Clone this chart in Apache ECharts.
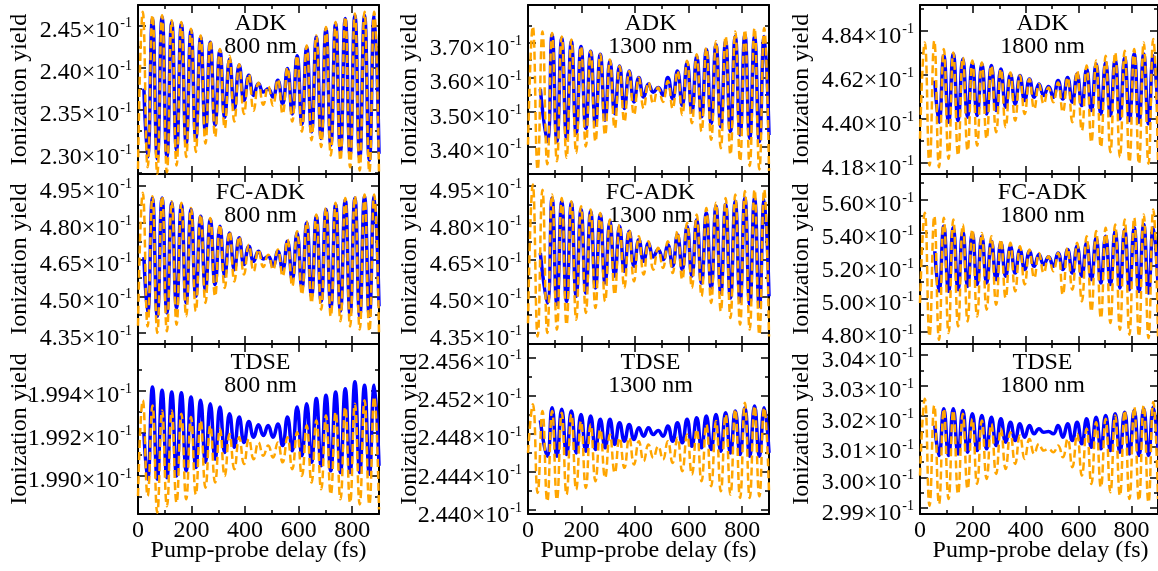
<!DOCTYPE html>
<html>
<head>
<meta charset="utf-8">
<script src="https://cdn.jsdelivr.net/npm/echarts@6/dist/echarts.min.js"></script>
<style>
html, body { margin: 0; padding: 0; background: #fff; }
#main { width: 1158px; height: 571px; }
</style>
</head>
<body>
<div id="main"></div>
<script>
// delays (fs) of the maxima / minima of the oscillation
var peakDelayFs = [18,54,90,126,162,198,234,270,306,342,378,414,450,486,522,558,594,630,666,702,738,774,810,846,882];
var troughDelayFs = [0,36,72,108,144,180,216,252,288,324,360,396,432,468,504,540,576,612,648,684,720,756,792,828,864,900];
var blueOnsetFs = [22, 46, 56];

var methods = ['ADK', 'FC-ADK', 'TDSE'];
var wavelengths = ['800 nm', '1300 nm', '1800 nm'];

// y values in units of 10^-1
// ---- 800 nm
var adk800BlueHi = [null,2.458,2.460,2.454,2.452,2.444,2.436,2.430,2.420,2.410,2.403,2.391,2.381,2.375,2.385,2.399,2.414,2.424,2.436,2.446,2.452,2.458,2.462,2.462,2.462];
var adk800BlueLo = [null,2.294,2.292,2.294,2.302,2.310,2.316,2.324,2.332,2.341,2.351,2.361,2.367,2.371,2.365,2.357,2.345,2.333,2.324,2.316,2.308,2.300,2.296,2.292,2.290,2.298];
var adk800OrangeHi = [2.466,2.462,2.462,2.456,2.454,2.446,2.438,2.432,2.422,2.414,2.404,2.392,2.382,2.378,2.386,2.400,2.414,2.426,2.438,2.448,2.454,2.460,2.464,2.466,2.466];
var adk800OrangeLo = [2.280,2.282,2.274,2.276,2.284,2.294,2.300,2.310,2.318,2.328,2.336,2.345,2.349,2.356,2.355,2.345,2.336,2.324,2.314,2.306,2.296,2.290,2.282,2.278,2.276,2.274];

var fc800BlueHi = [null,4.902,4.902,4.882,4.875,4.855,4.827,4.814,4.786,4.759,4.739,4.705,4.684,4.664,4.684,4.725,4.759,4.800,4.827,4.855,4.875,4.895,4.902,4.909,4.909];
var fc800BlueLo = [null,4.432,4.418,4.432,4.452,4.473,4.500,4.527,4.548,4.582,4.609,4.630,4.643,4.653,4.623,4.609,4.568,4.534,4.500,4.479,4.452,4.439,4.425,4.418,4.418,4.459];
var fc800OrangeHi = [4.923,4.909,4.909,4.889,4.882,4.861,4.834,4.820,4.793,4.766,4.745,4.711,4.691,4.670,4.691,4.732,4.766,4.807,4.834,4.861,4.882,4.902,4.909,4.916,4.916];
var fc800OrangeLo = [4.380,4.377,4.350,4.357,4.384,4.418,4.439,4.473,4.500,4.534,4.561,4.589,4.602,4.620,4.609,4.582,4.541,4.507,4.473,4.445,4.418,4.398,4.377,4.364,4.357,4.350];

var tdse800BlueHi = [null,1.99418,1.99402,1.99394,1.99391,1.99371,1.99355,1.99339,1.99323,1.99292,1.99276,1.99255,1.99240,1.99236,1.99244,1.99276,1.99323,1.99339,1.99363,1.99379,1.99394,1.99410,1.99442,1.99426,1.99426];
var tdse800BlueLo = [null,1.98984,1.98984,1.98991,1.98999,1.99023,1.99039,1.99063,1.99078,1.99110,1.99134,1.99157,1.99181,1.99189,1.99181,1.99142,1.99118,1.99094,1.99063,1.99047,1.99023,1.99015,1.99015,1.99015,1.99007,1.99047];
var tdse800OrangeHi = [1.99355,1.99331,1.99307,1.99307,1.99292,1.99276,1.99260,1.99236,1.99221,1.99197,1.99181,1.99173,1.99157,1.99142,1.99157,1.99181,1.99205,1.99236,1.99260,1.99284,1.99300,1.99323,1.99339,1.99355,1.99371];
var tdse800OrangeLo = [1.98905,1.98905,1.98826,1.98857,1.98873,1.98889,1.98912,1.98944,1.98968,1.98999,1.99031,1.99055,1.99078,1.99094,1.99086,1.99063,1.99031,1.98999,1.98968,1.98936,1.98912,1.98889,1.98873,1.98865,1.98865,1.98841];

// ---- 1300 nm
var adk1300BlueHi = [null,null,3.724,3.714,3.705,3.690,3.676,3.667,3.648,3.633,3.619,3.600,3.581,3.571,3.600,3.619,3.643,3.662,3.681,3.695,3.705,3.719,3.724,3.719,3.719];
var adk1300BlueLo = [null,null,3.414,3.414,3.424,3.438,3.452,3.462,3.476,3.495,3.510,3.529,3.543,3.557,3.548,3.538,3.519,3.500,3.486,3.467,3.457,3.443,3.433,3.424,3.414,3.433];
var adk1300OrangeHi = [3.748,3.733,3.729,3.719,3.710,3.690,3.676,3.667,3.652,3.633,3.619,3.600,3.586,3.571,3.590,3.619,3.648,3.667,3.686,3.705,3.719,3.733,3.738,3.743,3.743];
var adk1300OrangeLo = [3.405,3.333,3.348,3.357,3.367,3.381,3.400,3.414,3.433,3.452,3.471,3.491,3.510,3.524,3.529,3.510,3.491,3.467,3.443,3.419,3.395,3.376,3.357,3.343,3.333,3.329];

var fc1300BlueHi = [null,null,4.902,4.889,4.882,4.855,4.848,4.834,4.807,4.786,4.766,4.732,4.718,4.691,4.711,4.752,4.786,4.814,4.841,4.868,4.875,4.889,4.902,4.902,4.895];
var fc1300BlueLo = [null,null,4.473,4.466,4.479,4.500,4.514,4.534,4.554,4.582,4.602,4.623,4.643,4.661,4.650,4.623,4.609,4.582,4.554,4.534,4.514,4.493,4.479,4.466,4.459,4.500];
var fc1300OrangeHi = [4.957,4.936,4.916,4.902,4.889,4.868,4.855,4.841,4.814,4.793,4.773,4.745,4.725,4.698,4.725,4.766,4.800,4.834,4.861,4.882,4.902,4.916,4.930,4.936,4.936];
var fc1300OrangeLo = [4.390,4.336,4.350,4.364,4.384,4.404,4.432,4.452,4.479,4.507,4.534,4.561,4.589,4.609,4.616,4.595,4.568,4.534,4.500,4.473,4.439,4.411,4.384,4.364,4.343,4.336];

var tdse1300BlueHi = [null,null,2.45073,2.45056,2.45038,2.45003,2.44986,2.44951,2.44951,2.44916,2.44898,2.44863,2.44863,2.44835,2.44881,2.44916,2.44951,2.44968,2.44986,2.45003,2.45021,2.45038,2.45073,2.45091,2.45073];
var tdse1300BlueLo = [null,null,2.44565,2.44565,2.44583,2.44600,2.44618,2.44635,2.44653,2.44688,2.44723,2.44740,2.44775,2.44793,2.44775,2.44723,2.44705,2.44670,2.44653,2.44635,2.44618,2.44600,2.44583,2.44565,2.44565,2.44600];
var tdse1300OrangeHi = [2.45108,2.45038,2.45038,2.45021,2.45003,2.44933,2.44898,2.44846,2.44793,2.44758,2.44758,2.44723,2.44688,2.44670,2.44723,2.44758,2.44793,2.44846,2.44898,2.44933,2.45003,2.45056,2.45126,2.45091,2.45073];
var tdse1300OrangeLo = [2.44600,2.44180,2.44093,2.44110,2.44163,2.44215,2.44233,2.44303,2.44338,2.44390,2.44443,2.44478,2.44513,2.44548,2.44530,2.44495,2.44408,2.44373,2.44303,2.44250,2.44198,2.44163,2.44128,2.44128,2.44145,2.44198];

// ---- 1800 nm
var adk1800BlueHi = [null,null,4.716,4.725,4.700,4.683,4.675,4.667,4.650,4.625,4.617,4.600,4.575,4.563,4.592,4.608,4.625,4.650,4.675,4.683,4.700,4.708,4.725,4.725,4.716];
var adk1800BlueLo = [null,null,4.384,4.384,4.392,4.409,4.417,4.425,4.442,4.459,4.475,4.492,4.509,4.517,4.509,4.500,4.484,4.467,4.442,4.425,4.417,4.400,4.392,4.384,4.376,4.434];
var adk1800OrangeHi = [4.783,4.791,4.750,4.733,4.708,4.692,4.683,4.667,4.650,4.633,4.617,4.600,4.575,4.558,4.583,4.608,4.642,4.667,4.692,4.716,4.733,4.741,4.750,4.783,4.800];
var adk1800OrangeLo = [4.301,4.168,4.159,4.201,4.218,4.242,4.267,4.301,4.334,4.359,4.392,4.425,4.450,4.475,4.484,4.434,4.384,4.342,4.284,4.259,4.234,4.209,4.184,4.176,4.176,4.184];

var fc1800BlueHi = [null,null,5.439,5.429,5.409,5.398,5.378,5.348,5.338,5.317,5.297,5.287,5.267,5.253,5.277,5.297,5.317,5.338,5.368,5.378,5.409,5.419,5.429,5.449,5.429];
var fc1800BlueLo = [null,null,5.044,5.044,5.054,5.074,5.085,5.095,5.115,5.135,5.155,5.176,5.196,5.206,5.196,5.176,5.155,5.135,5.115,5.095,5.085,5.064,5.054,5.044,5.034,5.085];
var fc1800OrangeHi = [5.520,5.500,5.490,5.479,5.449,5.419,5.398,5.378,5.358,5.338,5.317,5.297,5.277,5.257,5.277,5.307,5.338,5.378,5.409,5.429,5.449,5.479,5.490,5.510,5.540];
var fc1800OrangeLo = [4.973,4.771,4.750,4.791,4.831,4.862,4.892,4.933,4.963,5.004,5.044,5.085,5.125,5.155,5.166,5.024,5.054,4.983,4.923,4.882,4.852,4.811,4.781,4.771,4.761,4.771];

var tdse1800BlueHi = [null,null,3.02240,3.02240,3.02186,3.02076,3.02022,3.01967,3.01913,3.01803,3.01749,3.01694,3.01585,3.01498,3.01694,3.01749,3.01803,3.01913,3.01967,3.02022,3.02076,3.02131,3.02186,3.02240,3.02295];
var tdse1800BlueLo = [null,null,3.00711,3.00711,3.00766,3.00820,3.00875,3.00930,3.01039,3.01148,3.01203,3.01312,3.01421,3.01476,3.01421,3.01312,3.01203,3.01094,3.00984,3.00930,3.00875,3.00820,3.00766,3.00711,3.00711,3.00930];
var tdse1800OrangeHi = [3.02568,3.02349,3.02240,3.02186,3.02076,3.01913,3.01858,3.01749,3.01585,3.01476,3.01367,3.01257,3.01094,3.00930,3.01039,3.01257,3.01421,3.01585,3.01803,3.01913,3.02022,3.02186,3.02295,3.02349,3.02459];
var tdse1800OrangeLo = [3.00056,2.99073,2.99128,2.99292,2.99456,2.99619,2.99783,2.99947,3.00111,3.00275,3.00438,3.00602,3.00766,3.00875,3.00820,3.00657,3.00329,3.00056,2.99783,2.99674,2.99510,2.99401,2.99292,2.99237,2.99183,2.99292];

// yield where the blue curve begins, [row][col]
var blueOnsetYield = [[2.375, 3.567, 4.592], [4.660, 4.677, 5.287], [1.9920, 2.4494, 3.01694]];

// y axis ranges and tick labels, [row][col]
var yMin = [[2.274, 3.32, 4.125], [4.305, 4.305, 4.725], [1.9882, 2.4396, 2.988]];
var yMax = [[2.474, 3.81, 4.97], [5.0, 5.0, 5.755], [1.9962, 2.4574, 3.0436]];
var yTicks = [
  [['2.30','2.35','2.40','2.45'], ['3.40','3.50','3.60','3.70'], ['4.18','4.40','4.62','4.84']],
  [['4.35','4.50','4.65','4.80','4.95'], ['4.35','4.50','4.65','4.80','4.95'], ['4.80','5.00','5.20','5.40','5.60']],
  [['1.990','1.992','1.994'], ['2.440','2.444','2.448','2.452','2.456'], ['2.99','3.00','3.01','3.02','3.03','3.04']]
];
var xTicks = [0, 200, 400, 600, 800];
var xMinorTicks = [100, 300, 500, 700, 900];

var blueHi = [[adk800BlueHi, adk1300BlueHi, adk1800BlueHi], [fc800BlueHi, fc1300BlueHi, fc1800BlueHi], [tdse800BlueHi, tdse1300BlueHi, tdse1800BlueHi]];
var blueLo = [[adk800BlueLo, adk1300BlueLo, adk1800BlueLo], [fc800BlueLo, fc1300BlueLo, fc1800BlueLo], [tdse800BlueLo, tdse1300BlueLo, tdse1800BlueLo]];
var orangeHi = [[adk800OrangeHi, adk1300OrangeHi, adk1800OrangeHi], [fc800OrangeHi, fc1300OrangeHi, fc1800OrangeHi], [tdse800OrangeHi, tdse1300OrangeHi, tdse1800OrangeHi]];
var orangeLo = [[adk800OrangeLo, adk1300OrangeLo, adk1800OrangeLo], [fc800OrangeLo, fc1300OrangeLo, fc1800OrangeLo], [tdse800OrangeLo, tdse1300OrangeLo, tdse1800OrangeLo]];

var FONT = '"Liberation Serif", "Times New Roman", serif';
var colLeft = [138, 528, 920];
var rowTop = [5, 174, 344];
var plotW = 241;
var rowH = [169, 170, 170];
var LABEL_DROP = 3.4; // px the tick labels sit below their tick

function curve(onsetT, onsetV, hi, lo) {
  var pts = [];
  if (onsetV != null) pts.push([onsetT, onsetV]);
  hi.forEach(function (v, i) { if (v != null) pts.push([peakDelayFs[i], v]); });
  lo.forEach(function (v, i) { if (v != null) pts.push([troughDelayFs[i], v]); });
  pts.sort(function (a, b) { return a[0] - b[0]; });
  return pts;
}

function minorOf(ticks, min, max) {
  var v = ticks.map(parseFloat);
  var step = v[1] - v[0];
  var out = [];
  for (var i = -1; i < v.length; i++) {
    var m = v[0] + (i + 0.5) * step;
    if (m > min && m < max) out.push(m);
  }
  return out;
}

var grids = [], xAxes = [], yAxes = [], series = [], graphics = [];

for (var r = 0; r < 3; r++) {
  for (var c = 0; c < 3; c++) {
    var g = grids.length;
    grids.push({ left: colLeft[c], top: rowTop[r], width: plotW, height: rowH[r], containLabel: false });
    var bottomRow = (r === 2);
    var majors = yTicks[r][c].map(parseFloat);
    var labels = yTicks[r][c];
    var minors = minorOf(labels, yMin[r][c], yMax[r][c]);

    ['bottom', 'top'].forEach(function (pos) {
      xAxes.push({
        type: 'value', gridIndex: g, position: pos, min: 0, max: 900,
        axisLine: { show: true, onZero: false, lineStyle: { color: '#000', width: 2 } },
        axisTick: { show: true, inside: true, length: 8, customValues: xTicks, lineStyle: { color: '#000', width: 1.5 } },
        axisLabel: {
          show: bottomRow && pos === 'bottom', customValues: xTicks, margin: 5,
          showMinLabel: true, showMaxLabel: true,
          fontFamily: FONT, fontSize: 24, color: '#000'
        },
        splitLine: { show: false }
      });
      xAxes.push({
        type: 'value', gridIndex: g, position: pos, min: 0, max: 900,
        axisLine: { show: false, onZero: false },
        axisTick: { show: true, inside: true, length: 4, customValues: xMinorTicks, lineStyle: { color: '#000', width: 1.5 } },
        axisLabel: { show: false },
        splitLine: { show: false }
      });
    });

    ['left', 'right'].forEach(function (pos) {
      yAxes.push({
        type: 'value', gridIndex: g, position: pos, min: yMin[r][c], max: yMax[r][c],
        axisLine: { show: true, onZero: false, lineStyle: { color: '#000', width: 2 } },
        axisTick: { show: true, inside: true, length: 8, customValues: majors, lineStyle: { color: '#000', width: 1.5 } },
        axisLabel: { show: false },
        splitLine: { show: false }
      });
      yAxes.push({
        type: 'value', gridIndex: g, position: pos, min: yMin[r][c], max: yMax[r][c],
        axisLine: { show: false, onZero: false },
        axisTick: { show: true, inside: true, length: 4, customValues: minors, lineStyle: { color: '#000', width: 1.5 } },
        axisLabel: { show: false },
        splitLine: { show: false }
      });
    });

    // label-only axis, its range nudged so the labels hang a few px below their ticks
    var drop = LABEL_DROP / rowH[r] * (yMax[r][c] - yMin[r][c]);
    (function (labels) {
      yAxes.push({
        type: 'value', gridIndex: g, position: 'left',
        min: yMin[r][c] + drop, max: yMax[r][c] + drop,
        axisLine: { show: false, onZero: false },
        axisTick: { show: false },
        axisLabel: {
          show: true, customValues: majors, margin: 6,
          showMinLabel: true, showMaxLabel: true, hideOverlap: false,
          formatter: function (v) {
            var s = labels[0];
            labels.forEach(function (t) { if (Math.abs(parseFloat(t) - v) < 1e-7) s = t; });
            return '{m|' + s + '×10}{s|-1}';
          },
          rich: {
            m: { fontFamily: FONT, fontSize: 24, lineHeight: 24, color: '#000', padding: [4, 0, 0, 0] },
            s: { fontFamily: FONT, fontSize: 14, lineHeight: 14, color: '#000', verticalAlign: 'top', padding: [0, 0, 0, 1] }
          }
        },
        splitLine: { show: false }
      });
    })(labels);

    var xi = g * 4, yi = g * 5;
    series.push({
      type: 'line', xAxisIndex: xi, yAxisIndex: yi, z: 2,
      data: curve(blueOnsetFs[c], blueOnsetYield[r][c], blueHi[r][c], blueLo[r][c]),
      showSymbol: false, symbol: 'none', smooth: 0.5, clip: true,
      lineStyle: { color: '#0000ff', width: 3.5 }
    });
    series.push({
      type: 'line', xAxisIndex: xi, yAxisIndex: yi, z: 3,
      data: curve(0, null, orangeHi[r][c], orangeLo[r][c]),
      showSymbol: false, symbol: 'none', smooth: 0.5, clip: true,
      lineStyle: { color: '#ffa500', width: 2.5, type: [8, 4] }
    });

    var cx = colLeft[c] + plotW / 2 + 2;
    graphics.push({ type: 'text', x: cx, y: rowTop[r] + 19, style: { text: methods[r], font: '24px ' + FONT, fill: '#000', textAlign: 'center', textVerticalAlign: 'middle' } });
    graphics.push({ type: 'text', x: cx, y: rowTop[r] + 42, style: { text: wavelengths[c], font: '24px ' + FONT, fill: '#000', textAlign: 'center', textVerticalAlign: 'middle' } });
    graphics.push({ type: 'text', x: colLeft[c] - 118, y: rowTop[r] + rowH[r] / 2, rotation: Math.PI / 2,
      style: { text: 'Ionization yield', font: '24px ' + FONT, fill: '#000', textAlign: 'center', textVerticalAlign: 'middle' } });
    if (bottomRow) {
      graphics.push({ type: 'text', x: colLeft[c] + plotW / 2, y: 551, style: { text: 'Pump-probe delay (fs)', font: '24px ' + FONT, fill: '#000', textAlign: 'center', textVerticalAlign: 'middle' } });
    }
  }
}

var myChart = echarts.init(document.getElementById('main'));
var option = {
  animation: false,
  backgroundColor: '#fff',
  grid: grids,
  xAxis: xAxes,
  yAxis: yAxes,
  series: series,
  graphic: graphics
};
myChart.setOption(option, true);
</script>
</body>
</html>
